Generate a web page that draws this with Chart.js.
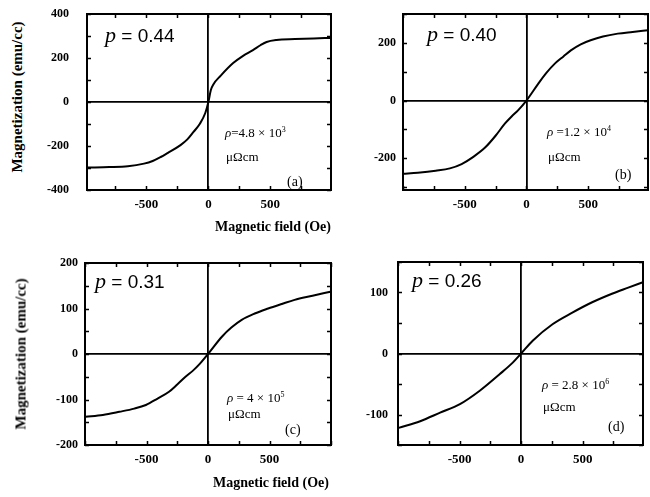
<!DOCTYPE html>
<html>
<head>
<meta charset="utf-8">
<script src="https://cdn.jsdelivr.net/npm/chart.js@4"></script>
<style>
  body { margin: 0; background: #fff; }
  #wrap { position: relative; width: 650px; height: 497px; overflow: hidden; background: #fff; }
  canvas { position: absolute; }
  .t { position: absolute; white-space: nowrap; line-height: 1; color: #000; }
  .p { font-family: "Liberation Sans", Arial, sans-serif; font-size: 19px; }
  .p i { font-family: "Liberation Serif", serif; font-size: 22px; }
  .rho { font-family: "Liberation Serif", serif; font-size: 13px; }
  .rho sup { font-size: 8px; }
  .lab { font-family: "Liberation Serif", serif; font-size: 14px; }
  .ax { font-family: "Liberation Serif", serif; font-weight: bold; font-size: 14px; transform: translate(-50%, -50%); }
  .ay { font-family: "Liberation Serif", serif; font-weight: bold; font-size: 15px; transform: translate(-50%, -50%) rotate(-90deg); }
</style>
</head>
<body>
<div id="wrap">
  <canvas id="ca"></canvas>
  <canvas id="cb"></canvas>
  <canvas id="cc"></canvas>
  <canvas id="cd"></canvas>

  <div class="t p" style="left:105px;top:24px"><i>p</i> = 0.44</div>
  <div class="t p" style="left:427px;top:23px"><i>p</i> = 0.40</div>
  <div class="t p" style="left:95px;top:270px"><i>p</i> = 0.31</div>
  <div class="t p" style="left:412px;top:269px"><i>p</i> = 0.26</div>

  <div class="t rho" style="left:225px;top:126px"><i>ρ</i>=4.8 × 10<sup>3</sup></div>
  <div class="t rho" style="left:226px;top:150px">μΩcm</div>
  <div class="t lab" style="left:287px;top:175px">(a)</div>

  <div class="t rho" style="left:547px;top:125px"><i>ρ</i> =1.2 × 10<sup>4</sup></div>
  <div class="t rho" style="left:548px;top:150px">μΩcm</div>
  <div class="t lab" style="left:615px;top:168px">(b)</div>

  <div class="t rho" style="left:227px;top:391px"><i>ρ</i> = 4 × 10<sup>5</sup></div>
  <div class="t rho" style="left:228px;top:407px">μΩcm</div>
  <div class="t lab" style="left:285px;top:423px">(c)</div>

  <div class="t rho" style="left:542px;top:378px"><i>ρ</i> = 2.8 × 10<sup>6</sup></div>
  <div class="t rho" style="left:543px;top:400px">μΩcm</div>
  <div class="t lab" style="left:608px;top:420px">(d)</div>

  <div class="t ay" style="left:17px;top:97px">Magnetization (emu/cc)</div>
  <div class="t ay" style="left:21px;top:354px">Magnetization (emu/cc)</div>
  <div class="t ax" style="left:273px;top:227px">Magnetic field (Oe)</div>
  <div class="t ax" style="left:271px;top:483px">Magnetic field (Oe)</div>
</div>
<script>
// (a) p = 0.44
const fieldA = [-975, -800, -650, -520, -450, -385, -330, -225, -170, -120, -70, -25, 0, 20, 40, 100, 200, 280, 360, 420, 470, 550, 700, 850, 985];
const magA = [-298, -296, -292, -280, -268, -250, -232, -196, -170, -136, -100, -50, 0, 55, 80, 120, 177, 210, 236, 258, 273, 282, 286, 289, 291];

// (b) p = 0.40
const fieldB = [-1000, -880, -735, -620, -525, -430, -335, -250, -175, -120, -70, 0, 95, 160, 230, 300, 360, 440, 520, 620, 740, 860, 985];
const magB = [-254, -250, -243, -235, -220, -195, -163, -122, -80, -55, -35, 0, 58, 95, 128, 153, 174, 195, 209, 222, 232, 238, 244];

// (c) p = 0.31
const fieldC = [-995, -855, -720, -600, -505, -410, -317, -250, -183, -120, -75, 0, 113, 190, 274, 380, 489, 600, 704, 850, 995];
const magC = [-138, -134, -127, -120, -112, -98, -83, -67, -50, -36, -24, 0, 38, 58, 75, 89, 100, 110, 119, 128, 137];

// (d) p = 0.26
const fieldD = [-995, -820, -658, -497, -336, -175, -68, 0, 94, 255, 416, 577, 738, 870, 990];
const magD = [-122, -111, -97, -83, -61, -34, -15, 0, 21, 48, 67, 84, 98, 108, 117];

const xTickStep = 250;
const xLabelStep = 500;
const xLabelMax = 500;

// box around the plot + small inward tick marks
const framePlugin = {
  id: 'frame',
  afterDatasetsDraw(chart) {
    const { ctx, chartArea: a, scales: { x, y } } = chart;
    ctx.save();
    ctx.strokeStyle = '#000';
    ctx.lineWidth = 1.5;
    ctx.beginPath();
    x.ticks.forEach(t => {
      const px = Math.round(x.getPixelForValue(t.value)) + 0.5;
      ctx.moveTo(px, a.bottom); ctx.lineTo(px, a.bottom - 4);
      ctx.moveTo(px, a.top); ctx.lineTo(px, a.top + 4);
    });
    y.ticks.forEach(t => {
      const py = Math.round(y.getPixelForValue(t.value)) + 0.5;
      ctx.moveTo(a.left, py); ctx.lineTo(a.left + 4, py);
      ctx.moveTo(a.right, py); ctx.lineTo(a.right - 4, py);
    });
    ctx.stroke();
    ctx.lineWidth = 2;
    ctx.strokeRect(a.left, a.top, a.right - a.left, a.bottom - a.top);
    ctx.restore();
  }
};

// ticks only at whole multiples of the step
function stepTicks(scale) {
  const step = scale.options.ticks.stepSize;
  const out = [];
  for (let v = Math.ceil(scale.min / step) * step; v <= scale.max + 1e-9; v += step) {
    out.push({ value: v });
  }
  scale.ticks = out;
}

const tickFont = { family: 'Liberation Serif', weight: 'bold', size: 12 };
const zeroLine = c => (c.tick && c.tick.value === 0) ? '#000' : 'rgba(0,0,0,0)';

function makePanel(id, field, mag, box, xr, yr) {
  const yw = 60, xh = 22, padT = 8, padR = 4;
  const cv = document.getElementById(id);
  const left = box.l - yw, top = box.t - padT;
  cv.width = box.r - left + padR;
  cv.height = box.b - top + xh;
  cv.style.left = left + 'px';
  cv.style.top = top + 'px';

  new Chart(cv, {
    type: 'line',
    data: {
      datasets: [{
        data: field.map((v, i) => ({ x: v, y: mag[i] })),
        borderColor: '#000',
        borderWidth: 2,
        pointRadius: 0,
        cubicInterpolationMode: 'monotone',
        fill: false
      }]
    },
    options: {
      responsive: false,
      animation: false,
      layout: { padding: { top: padT, right: padR, left: 0, bottom: 0 } },
      plugins: { legend: { display: false }, tooltip: { enabled: false } },
      scales: {
        x: {
          type: 'linear', min: xr[0], max: xr[1],
          afterBuildTicks: stepTicks,
          afterFit: s => { s.height = xh; s.paddingLeft = 0; s.paddingRight = 0; },
          ticks: {
            stepSize: xTickStep, autoSkip: false, maxRotation: 0, minRotation: 0, padding: 7,
            color: '#000', font: { ...tickFont, size: 13 },
            callback: v => (v % xLabelStep === 0 && Math.abs(v) <= xLabelMax ? String(v) : '')
          },
          grid: { drawTicks: false, color: zeroLine, lineWidth: 1.8 },
          border: { display: false }
        },
        y: {
          type: 'linear', min: yr[0], max: yr[1],
          afterBuildTicks: stepTicks,
          afterFit: s => { s.width = yw; s.paddingTop = 0; s.paddingBottom = 0; },
          ticks: {
            stepSize: yr[2], autoSkip: false, padding: box.pad,
            color: '#000', font: tickFont,
            callback: v => (v % yr[3] === 0 ? String(v) : '')
          },
          grid: { drawTicks: false, color: zeroLine, lineWidth: 1.8 },
          border: { display: false }
        }
      }
    },
    plugins: [framePlugin]
  });
}

makePanel('ca', fieldA, magA, { l: 87, t: 14, r: 331, b: 190, pad: 18 }, [-980, 990], [-400, 400, 100, 200]);
makePanel('cb', fieldB, magB, { l: 403, t: 14, r: 648, b: 190, pad: 7 }, [-1000, 985], [-310, 300, 100, 200]);
makePanel('cc', fieldC, magC, { l: 85, t: 263, r: 331, b: 445, pad: 7 }, [-1000, 1000], [-200, 200, 50, 100]);
makePanel('cd', fieldD, magD, { l: 398, t: 262, r: 643, b: 445, pad: 10 }, [-1000, 990], [-150, 150, 50, 100]);
</script>
</body>
</html>
